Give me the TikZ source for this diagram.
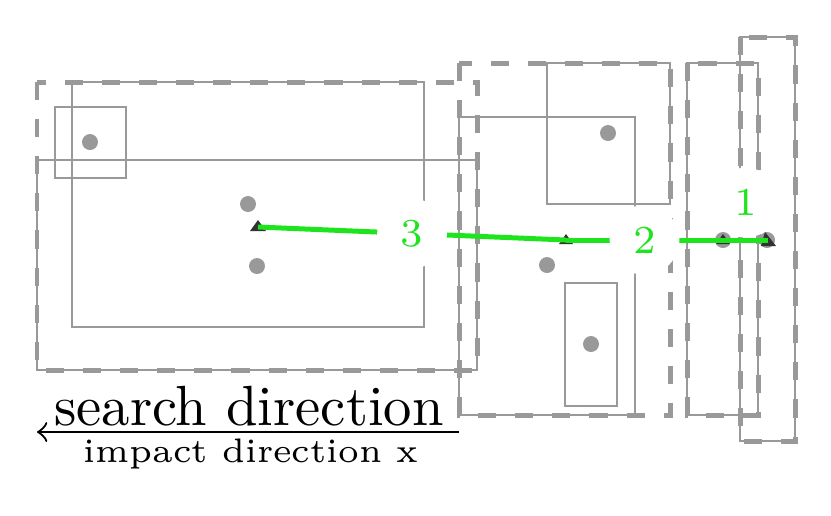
\documentclass[tikz,border=0pt]{standalone}
\definecolor{boxgray}{RGB}{153,153,153}
\definecolor{mygreen}{RGB}{30,228,30}
\definecolor{markdark}{RGB}{50,50,50}
\begin{document}
\begin{tikzpicture}[x=0.1765pt,y=-0.1765pt,
  solidbox/.style={draw=boxgray,line width=0.35pt},
  dashbox/.style={draw=boxgray,line width=0.88pt,dash pattern=on 3.2pt off 3.35pt},
  dotfill/.style={fill=boxgray},
  trimark/.style={fill=markdark},
  link/.style={draw=mygreen,line width=0.88pt},
  lbl/.style={circle,fill=white,inner sep=0pt,minimum size=12.3pt,text=mygreen,font=\fontsize{7}{8}\selectfont}]
\useasboundingbox (0,0) rectangle (831,515);

% left group
\draw[solidbox] (72,82) rectangle (424,327);
\draw[solidbox] (37,160) rectangle (477,370);
\draw[solidbox] (55,107) rectangle (126,178);
\draw[dashbox] (37,82) rectangle (477,370);
% middle group
\draw[solidbox] (547,63) rectangle (670,204);
\draw[solidbox] (459,117) rectangle (635,415);
\draw[solidbox] (565,283) rectangle (617,406);
\draw[dashbox] (459,63) rectangle (670,415);
% right group
\draw[solidbox] (687,63) rectangle (758,415);
\draw[dashbox] (687,63) rectangle (758,415);
\draw[solidbox] (740,37) rectangle (795,441);
\draw[dashbox] (740,37) rectangle (795,441);

% dots
\fill[dotfill] (90,142) circle[radius=1.41pt];
\fill[dotfill] (248,204) circle[radius=1.41pt];
\fill[dotfill] (257,266) circle[radius=1.41pt];
\fill[dotfill] (608,133) circle[radius=1.41pt];
\fill[dotfill] (547,265) circle[radius=1.41pt];
\fill[dotfill] (591,344) circle[radius=1.41pt];
\fill[dotfill] (723,240) circle[radius=1.41pt];
\fill[dotfill] (767,240) circle[radius=1.41pt];

% markers
\coordinate (c3) at (258,227);
\coordinate (c2) at (566,240);
\coordinate (c1a) at (723,240);
\coordinate (c1b) at (768,240);
\fill[trimark] (c3) ++(-8,4) -- ++(16,0) -- ++(-8,-11) -- cycle;
\fill[trimark] (c2) ++(-7,4) -- ++(14,0) -- ++(-7,-10) -- cycle;
\fill[trimark] (c1a) ++(-7,4) -- ++(14,0) -- ++(-7,-10) -- cycle;
\fill[trimark] (c1b) ++(-7,6) -- ++(15,0) -- ++(-11,-14) -- cycle;

% green links
\draw[link] (c3) -- node[lbl] (l3) {3} (c2);
\draw[link] (c2) -- node[lbl] (l2) {2} (c1a);
\draw[link] (c1a) -- node[lbl,yshift=6.6pt] (l1) {1} (c1b);

% direction
\node[anchor=base,inner sep=0pt] (sd) at (249,425) {search direction};
\node[anchor=base,inner sep=0pt,font=\fontsize{6}{7}\selectfont] (idir) at (251,462) {impact direction x};
\coordinate (al) at (37,432);
\coordinate (ar) at (459,432);
\draw[<-] (al) -- (ar);
\end{tikzpicture}
\end{document}
